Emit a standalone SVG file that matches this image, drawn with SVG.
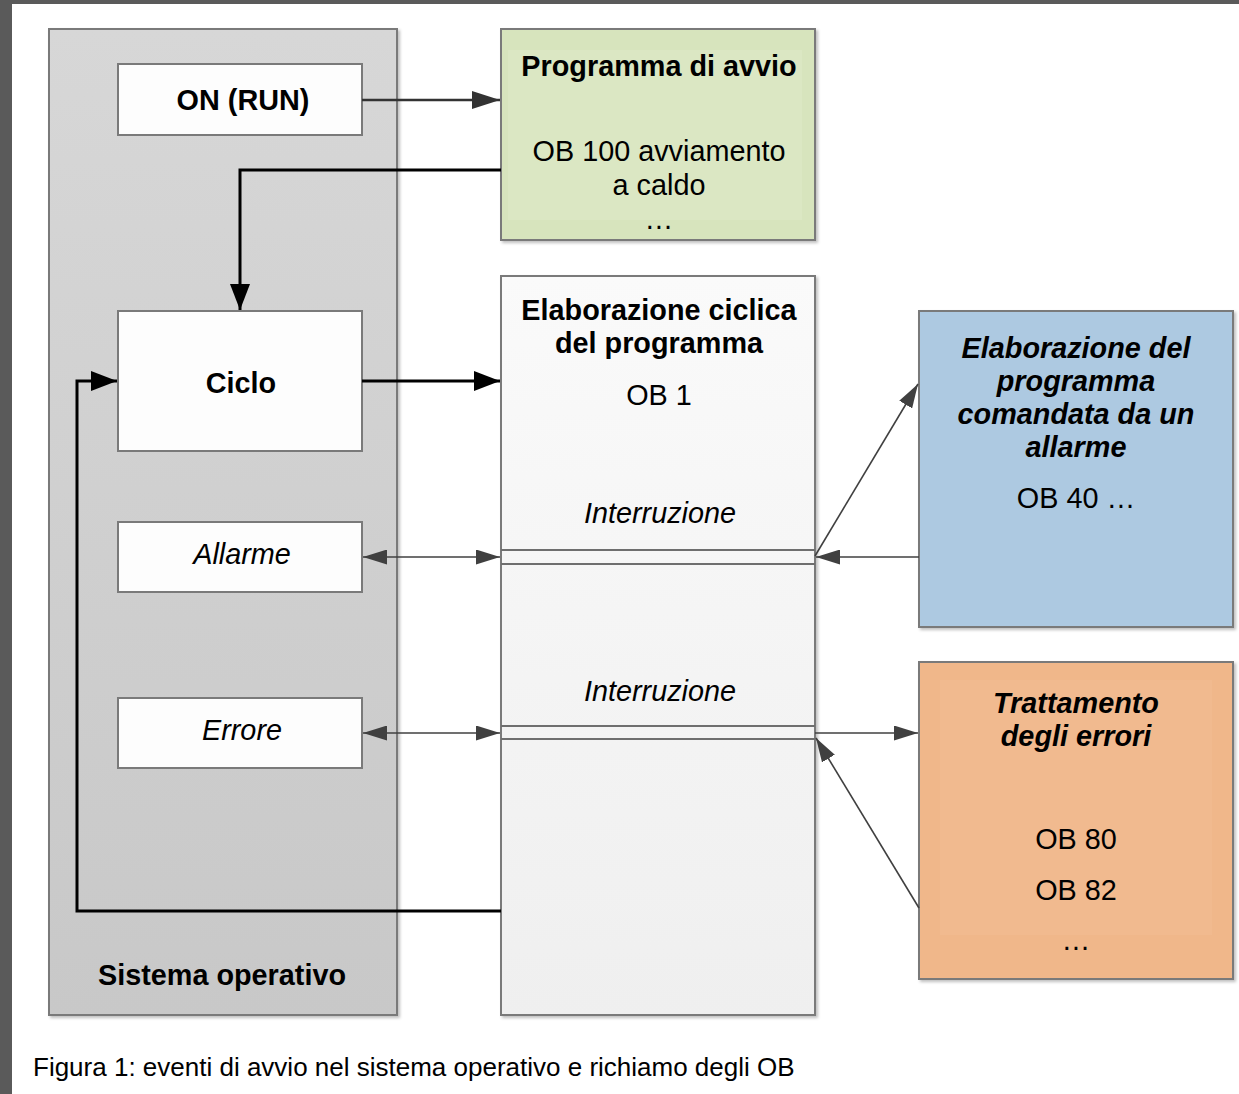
<svg xmlns="http://www.w3.org/2000/svg" width="1239" height="1094" viewBox="0 0 1239 1094">
<defs>
<style>
.t{font-family:"Liberation Sans",Arial,sans-serif;fill:#000;text-anchor:middle;font-size:28.8px}
.b{font-weight:bold}
.i{font-style:italic}
.box{stroke:#7a7a7a;stroke-width:2}
.thin{fill:none;stroke:#404040;stroke-width:1.6}
.med{fill:none;stroke:#333;stroke-width:2.7}
.thick{fill:none;stroke:#000;stroke-width:3}
.sep{stroke:#6e6e6e;stroke-width:2}
</style>
<linearGradient id="gOS" x1="0" y1="0" x2="0" y2="1"><stop offset="0" stop-color="#d7d7d7"/><stop offset="1" stop-color="#c8c8c8"/></linearGradient>
<linearGradient id="gEl" x1="0" y1="0" x2="0" y2="1"><stop offset="0" stop-color="#fafafa"/><stop offset="1" stop-color="#efefef"/></linearGradient>
<filter id="sh" x="-5%" y="-5%" width="110%" height="110%"><feDropShadow dx="2" dy="2" stdDeviation="1.5" flood-color="#000" flood-opacity="0.25"/></filter>
<marker id="aT" viewBox="0 0 24 15" refX="24" refY="7.5" markerWidth="24" markerHeight="15" markerUnits="userSpaceOnUse" orient="auto-start-reverse"><path d="M0,0 L24,7.5 L0,15 Z" fill="#404040"/></marker>
<marker id="aM" viewBox="0 0 28 18" refX="28" refY="9" markerWidth="28" markerHeight="18" markerUnits="userSpaceOnUse" orient="auto-start-reverse"><path d="M0,0 L28,9 L0,18 Z" fill="#333"/></marker>
<marker id="aK" viewBox="0 0 26 20" refX="26" refY="10" markerWidth="26" markerHeight="20" markerUnits="userSpaceOnUse" orient="auto-start-reverse"><path d="M0,0 L26,10 L0,20 Z" fill="#000"/></marker>
</defs>
<rect x="0" y="0" width="1239" height="1094" fill="#fff"/>
<rect x="0" y="0" width="12" height="1094" fill="#5a5a5a"/>
<rect x="0" y="0" width="1239" height="4" fill="#5a5a5a"/>

<g id="sistema-operativo">
<rect class="box" x="49" y="29" width="348" height="986" fill="url(#gOS)" filter="url(#sh)"/>
<text class="t b" x="222" y="985">Sistema operativo</text>
</g>
<g id="on-run">
<rect class="box" x="118" y="64" width="244" height="71" fill="#fdfdfd"/>
<text class="t b" x="243" y="110">ON (RUN)</text>
</g>
<g id="ciclo">
<rect class="box" x="118" y="311" width="244" height="140" fill="#fdfdfd"/>
<text class="t b" x="241" y="393">Ciclo</text>
</g>
<g id="allarme">
<rect class="box" x="118" y="522" width="244" height="70" fill="#fdfdfd"/>
<text class="t i" x="242" y="564">Allarme</text>
</g>
<g id="errore">
<rect class="box" x="118" y="698" width="244" height="70" fill="#fdfdfd"/>
<text class="t i" x="242" y="740">Errore</text>
</g>
<g id="programma-avvio">
<rect class="box" x="501" y="29" width="314" height="211" fill="#d7e4bd" filter="url(#sh)"/>
<rect x="508" y="50" width="294" height="170" fill="#dde8c6" opacity="0.7"/>
<text class="t b" x="659" y="76">Programma di avvio</text>
<text class="t" x="659" y="161">OB 100 avviamento</text>
<text class="t" x="659" y="195">a caldo</text>
<text class="t" x="659" y="229">…</text>
</g>
<g id="elaborazione-ciclica">
<rect class="box" x="501" y="276" width="314" height="739" fill="url(#gEl)" filter="url(#sh)"/>
<text class="t b" x="659" y="320">Elaborazione ciclica</text>
<text class="t b" x="659" y="353">del programma</text>
<text class="t" x="659" y="405">OB 1</text>
<text class="t i" x="660" y="523">Interruzione</text>
<line class="sep" x1="501" y1="550" x2="815" y2="550"/>
<line class="sep" x1="501" y1="564" x2="815" y2="564"/>
<text class="t i" x="660" y="701">Interruzione</text>
<line class="sep" x1="501" y1="726" x2="815" y2="726"/>
<line class="sep" x1="501" y1="739" x2="815" y2="739"/>
</g>
<g id="allarme-ob">
<rect class="box" x="919" y="311" width="314" height="316" fill="#adc9e1" filter="url(#sh)"/>
<text class="t b i" x="1076" y="358">Elaborazione del</text>
<text class="t b i" x="1076" y="391">programma</text>
<text class="t b i" x="1076" y="424">comandata da un</text>
<text class="t b i" x="1076" y="457">allarme</text>
<text class="t" x="1076" y="508">OB 40 …</text>
</g>
<g id="errori-ob">
<rect class="box" x="919" y="662" width="314" height="317" fill="#f0b78a" filter="url(#sh)"/>
<rect x="940" y="680" width="272" height="255" fill="#f2bd92" opacity="0.6"/>
<text class="t b i" x="1076" y="713">Trattamento</text>
<text class="t b i" x="1076" y="746">degli errori</text>
<text class="t" x="1076" y="849">OB 80</text>
<text class="t" x="1076" y="900">OB 82</text>
<text class="t" x="1076" y="950">…</text>
</g>
<g id="connectors">
<line class="med" x1="362" y1="100" x2="500" y2="100" marker-end="url(#aM)"/>
<polyline class="thick" points="501,170 240,170 240,310" marker-end="url(#aK)"/>
<line class="thick" x1="362" y1="381" x2="500" y2="381" marker-end="url(#aK)"/>
<polyline class="thick" points="501,911 77,911 77,381 117,381" marker-end="url(#aK)"/>
<line class="thin" x1="363" y1="557" x2="500" y2="557" marker-start="url(#aT)" marker-end="url(#aT)"/>
<line class="thin" x1="363" y1="733" x2="500" y2="733" marker-start="url(#aT)" marker-end="url(#aT)"/>
<line class="thin" x1="919" y1="557" x2="816" y2="557" marker-end="url(#aT)"/>
<line class="thin" x1="815" y1="556" x2="918" y2="384" marker-end="url(#aT)"/>
<line class="thin" x1="815" y1="733" x2="918" y2="733" marker-end="url(#aT)"/>
<line class="thin" x1="919" y1="908" x2="816" y2="738" marker-end="url(#aT)"/>
</g>
<text class="t" x="33" y="1076" style="text-anchor:start;font-size:26px">Figura 1: eventi di avvio nel sistema operativo e richiamo degli OB</text>
</svg>
